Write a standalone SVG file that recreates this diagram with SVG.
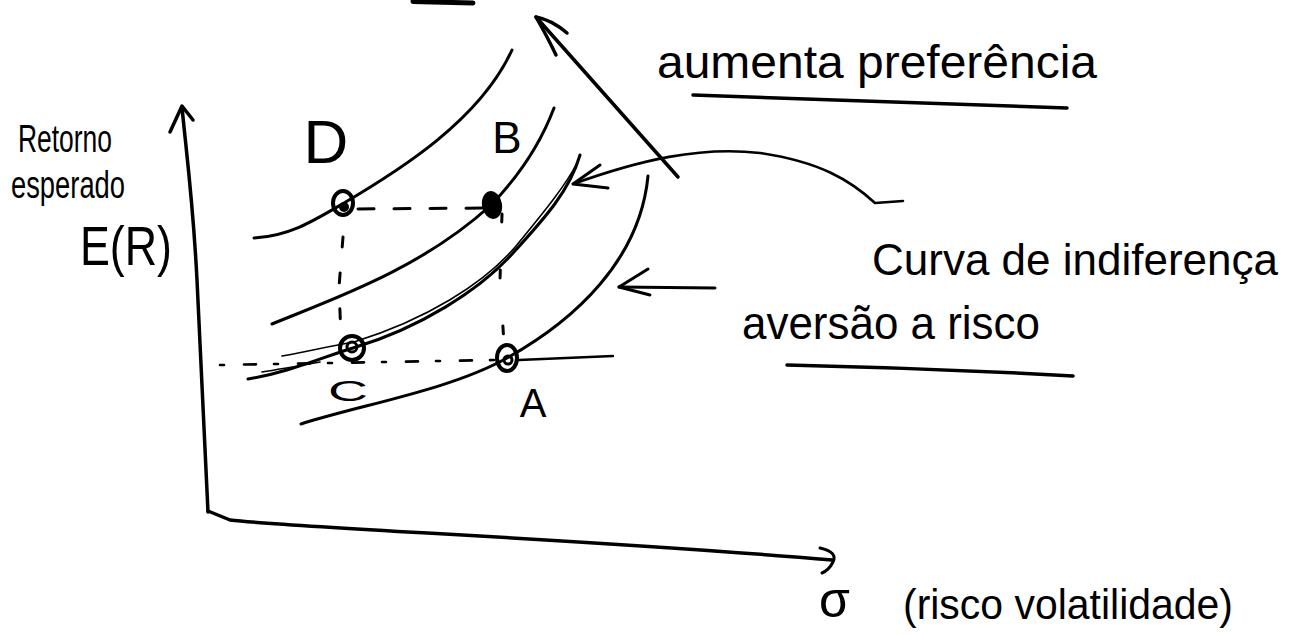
<svg xmlns="http://www.w3.org/2000/svg" width="1297" height="635" viewBox="0 0 1297 635">
  <style>
    .ln { fill: none; stroke: #000; stroke-linecap: round; stroke-linejoin: round; }
    .ax { stroke-width: 3.5; }
    .cv { stroke-width: 3; }
    .th { stroke-width: 1.6; }
    .ds { stroke-width: 3; }
    .t { font-family: "Liberation Sans", "DejaVu Sans", sans-serif; fill: #000; }
    .pt { fill: none; stroke: #000; stroke-width: 4; }
  </style>
  <rect width="1297" height="635" fill="#fff"/>

  <!-- cropped mark at top edge -->
  <path class="ln" d="M413,1.5 L473,3" stroke-width="5"/>

  <!-- axes -->
  <g id="axes">
    <path class="ln ax" d="M208,512 C 203,420 199,330 197,280 C 193,200 186,150 182,107"/>
    <path class="ln ax" d="M170,132 L182,106 L193,120"/>
    <path class="ln ax" d="M208,511 L230,520 C 300,528 600,540 832,560"/>
    <path class="ln" stroke-width="3" d="M820,548 Q 838,552 833,562 Q 829,570 822,573"/>
    <text class="t" x="18" y="152" font-size="38" textLength="94" lengthAdjust="spacingAndGlyphs">Retorno</text>
    <text class="t" x="11" y="198" font-size="38" textLength="114" lengthAdjust="spacingAndGlyphs">esperado</text>
    <text class="t" x="80" y="265" font-size="56" textLength="92" lengthAdjust="spacingAndGlyphs">E(R)</text>
    <text class="t" x="819" y="617" font-size="50">σ</text>
    <text class="t" x="903" y="619" font-size="42" textLength="330" lengthAdjust="spacingAndGlyphs">(risco volatilidade)</text>
  </g>

  <!-- indifference curves -->
  <g id="curves">
    <path id="curve-D" class="ln cv" d="M254,238 C 290,236 315,220 344,203 C 400,170 480,120 512,50"/>
    <path id="curve-B" class="ln cv" d="M272,324 C 330,300 420,270 491,205 C 520,175 540,145 554,108"/>
    <path id="curve-C" class="ln cv" d="M248,379 C 290,372 320,358 353,348 C 420,328 480,290 513,253 C 545,218 570,190 580,155"/>
    <path class="ln th" d="M282,356 C 305,352 330,346 354,342 C 425,320 484,284 516,246 C 544,212 566,185 577,163"/>
    <path class="ln th" d="M262,372 C 285,368 300,366 320,362"/>
    <path id="curve-A" class="ln cv" d="M301,424 C 360,405 450,390 507,358 C 575,320 640,260 648,176"/>
  </g>

  <!-- guide lines -->
  <g id="guides">
    <path class="ln ds" d="M358,209 L485,208" stroke-dasharray="16 20"/>
    <path class="ln ds" d="M343,237 L339,287 L341,337" stroke-dasharray="10 26"/>
    <path class="ln ds" d="M502,214 L500,280 L504,344" stroke-dasharray="8 48"/>
    <path class="ln" stroke-width="2.6" d="M220,365 L495,360" stroke-dasharray="4 20 12 18"/>
    <path class="ln" stroke-width="2.4" d="M519,360 L613,356"/>
  </g>

  <!-- points -->
  <g id="node-D">
    <ellipse class="pt" cx="343" cy="203" rx="10" ry="12"/>
    <circle cx="344" cy="207" r="5" fill="#000"/>
    <text class="t" x="326" y="163" font-size="62" text-anchor="middle">D</text>
  </g>
  <g id="node-B">
    <ellipse cx="492" cy="205" rx="10" ry="14" fill="#000" transform="rotate(-10 492 205)"/>
    <text class="t" x="507" y="153" font-size="44" text-anchor="middle">B</text>
  </g>
  <g id="node-C">
    <circle class="pt" cx="352" cy="348" r="12"/>
    <circle cx="352" cy="347" r="5" fill="none" stroke="#000" stroke-width="3"/>
    <text class="t" x="348" y="401" font-size="30" text-anchor="middle" textLength="40" lengthAdjust="spacingAndGlyphs">C</text>
  </g>
  <g id="node-A">
    <ellipse class="pt" cx="507" cy="358" rx="10" ry="13"/>
    <circle cx="508" cy="360" r="4" fill="none" stroke="#000" stroke-width="3"/>
    <text class="t" x="533" y="417" font-size="40" text-anchor="middle">A</text>
  </g>

  <!-- annotations -->
  <g id="label-preferencia">
    <text class="t" x="657" y="78" font-size="46" textLength="440" lengthAdjust="spacingAndGlyphs">aumenta preferência</text>
    <path class="ln" stroke-width="3.5" d="M693,95 Q 880,101 1067,108"/>
  </g>
  <g id="label-curva">
    <text class="t" x="872" y="275" font-size="44">Curva de indiferença</text>
  </g>
  <g id="label-aversao">
    <text class="t" x="742" y="339" font-size="46" textLength="298" lengthAdjust="spacingAndGlyphs">aversão a risco</text>
    <path class="ln" stroke-width="3.5" d="M787,365 Q 930,368 1073,376"/>
  </g>

  <!-- connectors -->
  <g id="connectors">
    <path class="ln" stroke-width="3.5" d="M678,177 L536,17"/>
    <path class="ln" stroke-width="3.5" d="M567,33 Q 552,20 536,17 Q 548,38 556,55"/>
    <path class="ln" stroke-width="2.6" d="M903,201 L875,203 C 850,180 820,162 760,153 C 700,146 640,160 573,184"/>
    <path class="ln" stroke-width="3" d="M600,165 L573,184 L608,188"/>
    <path class="ln" stroke-width="3" d="M715,288 L619,287"/>
    <path class="ln" stroke-width="3" d="M648,269 L619,287 L650,295"/>
  </g>
</svg>
